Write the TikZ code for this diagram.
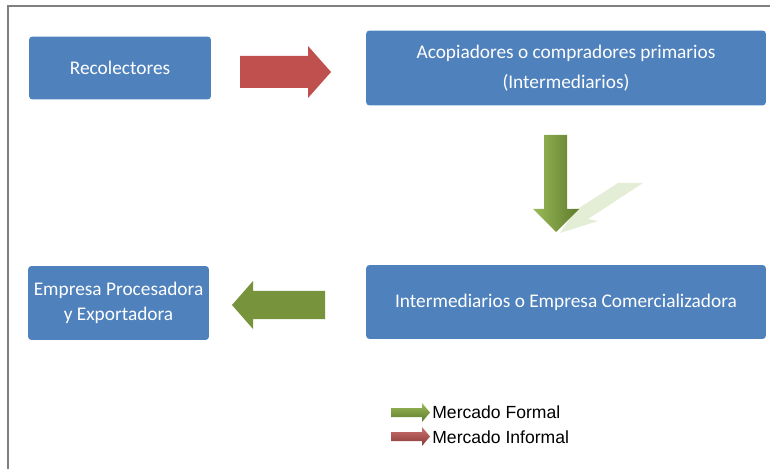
\documentclass[tikz,border=0pt]{standalone}
\usepackage{fontspec}
\setmainfont{Carlito}
\newfontfamily\legendfont{Liberation Sans}
\definecolor{boxblue}{HTML}{4F81BD}
\definecolor{arrowred}{HTML}{C0504D}
\definecolor{arrowgreen}{HTML}{77933C}
\definecolor{lightgreen}{HTML}{9BBB59}
\definecolor{darkgreen}{HTML}{5E7A2C}
\definecolor{shadowgreen}{HTML}{E4EDD5}
\begin{document}
\begin{tikzpicture}[x=0.02cm,y=-0.02cm,
  box/.style={fill=boxblue, rounded corners=2pt, text=white, align=center,
    inner sep=0pt, font=\fontsize{11}{13}\selectfont},
  legend/.style={anchor=west, inner sep=0pt, font=\legendfont\fontsize{10}{12}\selectfont}]

\useasboundingbox (0,0) rectangle (770,469);
\draw[gray, line width=1.3pt] (8,469) -- (8,6) -- (770,6);

\node[box, minimum width=3.64cm, minimum height=1.26cm] (recol) at (120,68) {Recolectores};
\node[box, minimum width=8cm, minimum height=1.5cm, font=\fontsize{11}{17}\selectfont] (acop) at (566,68)
  {Acopiadores o compradores primarios\\(Intermediarios)};
\node[box, minimum width=8cm, minimum height=1.48cm] (inter) at (566,302)
  {Intermediarios o Empresa Comercializadora};
\node[box, minimum width=3.62cm, minimum height=1.48cm, font=\fontsize{11}{14.5}\selectfont] (empresa) at (118.5,303)
  {Empresa Procesadora\\y Exportadora};

% block arrows between the boxes
\fill[arrowred] (240,56) -- (308,56) -- (308,46) -- (331,72) -- (308,98) -- (308,88) -- (240,88) -- cycle;

\fill[shadowgreen] (560,233) -- (598,221) -- (588,219) -- (643,183) -- (618,183) -- (576,210) -- cycle;
\shade[left color=lightgreen, right color=darkgreen]
  (544,135) -- (567,135) -- (567,209) -- (579,209) -- (556,232) -- (533,209) -- (544,209) -- cycle;

\fill[arrowgreen] (325,291) -- (253,291) -- (253,281) -- (232,305) -- (253,329) -- (253,319) -- (325,319) -- cycle;

% legend
\shade[top color=lightgreen, bottom color=darkgreen]
  (391,408) -- (422,408) -- (422,403) -- (430,412.5) -- (422,422) -- (422,417) -- (391,417) -- cycle;
\shade[top color=arrowred!80, bottom color=arrowred!70!black]
  (391,432) -- (422,432) -- (422,427) -- (430,436.5) -- (422,446) -- (422,441) -- (391,441) -- cycle;
\node[legend] (formal) at (432,412) {Mercado Formal};
\node[legend] (informal) at (432,437) {Mercado Informal};

\end{tikzpicture}
\end{document}
